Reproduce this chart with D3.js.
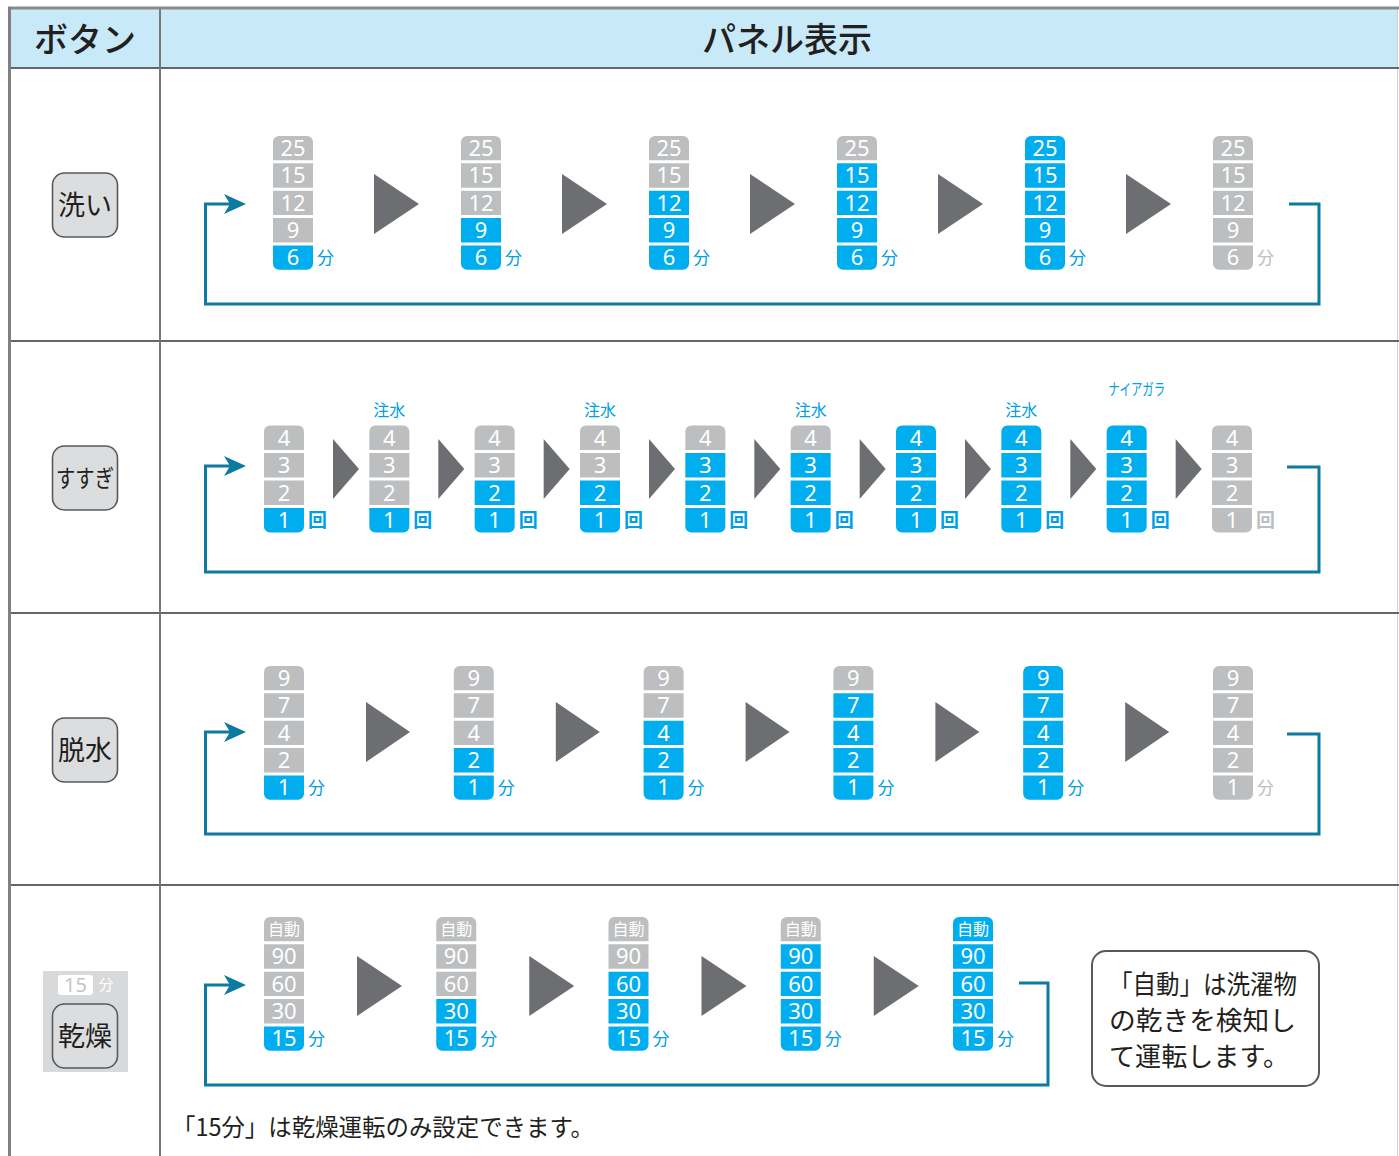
<!DOCTYPE html>
<html><head><meta charset="utf-8">
<script src="https://cdn.jsdelivr.net/npm/d3@7"></script>
<style>html,body{margin:0;padding:0;background:#fff;}svg{display:block;}</style>
</head><body>
<script>
// ---- data ----
const headers = ["ボタン", "パネル表示"];
const buttons = ["洗い", "すすぎ", "脱水", "乾燥"];
const washLevels = ["25", "15", "12", "9", "6"];
const washStates = [1, 2, 3, 4, 5, 0];
const rinseLevels = ["4", "3", "2", "1"];
const rinseStates = [1, 1, 2, 2, 3, 3, 4, 4, 4, 0];
const rinseLabels = ["", "注水", "", "注水", "", "注水", "", "注水", "ナイアガラ", ""];
const spinLevels = ["9", "7", "4", "2", "1"];
const spinStates = [1, 2, 3, 4, 5, 0];
const dryLevels = ["自動", "90", "60", "30", "15"];
const dryStates = [1, 2, 3, 4, 5];
const units = ["分", "回", "分", "分"];
const noteLines = ["「自動」は洗濯物", "の乾きを検知し", "て運転します。"];
const footNote = "「15分」は乾燥運転のみ設定できます。";
const dryBadge = ["15", "分"];

// ---- layout ----
const W = 1399, H = 1156;
const BLUE = "#00aeef", GRAY = "#bcbec0", TRI = "#6d6e71", LOOP = "#0e79a1", UNITBLUE = "#00a0e3";
const FONT = "'Noto Sans CJK JP', 'Noto Sans', sans-serif";
const LATIN = "'Noto Sans', 'Open Sans', sans-serif";
const rows = [
  {levels: washLevels, states: washStates, labels: null, x0: 273, x1: 1213, y0: 136, triDx: 101, triW: 45, cy: 204, ya: 204, yb: 304, xr: 1319, stub: 1289, yr: 204, btnY: 205},
  {levels: rinseLevels, states: rinseStates, labels: rinseLabels, x0: 264, x1: 1212, y0: 425.5, triDx: 69, triW: 26, cy: 469, ya: 466, yb: 572, xr: 1319, stub: 1287, yr: 467, btnY: 478},
  {levels: spinLevels, states: spinStates, labels: null, x0: 264, x1: 1213, y0: 666, triDx: 102, triW: 44, cy: 732, ya: 732, yb: 834, xr: 1319, stub: 1287, yr: 734, btnY: 750},
  {levels: dryLevels, states: dryStates, labels: null, x0: 264, x1: 953, y0: 917, triDx: 93, triW: 45, cy: 986, ya: 985, yb: 1085, xr: 1048, stub: 1019, yr: 983, btnY: 1036}
];
const rowLines = [68, 341, 613, 885];

const svg = d3.select("body").append("svg").attr("width", W).attr("height", H)
  .style("font-family", FONT);

// CJK text helper: place by visual center
function cjk(sel, x, cy, fs, txt, fill, anchor) {
  return sel.append("text").attr("x", x).attr("y", cy + fs * 0.36)
    .attr("text-anchor", anchor || "start").attr("font-size", fs).attr("fill", fill).text(txt);
}

// header background
svg.append("rect").attr("x", 10).attr("y", 9).attr("width", W - 11).attr("height", 59).attr("fill", "#c7e9f8");
// grid lines
svg.append("line").attr("x1", W - 1.5).attr("x2", W - 1.5).attr("y1", 9).attr("y2", H).attr("stroke", "#d0d0d0").attr("stroke-width", 1);
rowLines.forEach(y => svg.append("line").attr("x1", 10).attr("x2", W).attr("y1", y).attr("y2", y).attr("stroke", "#666").attr("stroke-width", 2));
svg.append("line").attr("x1", 160).attr("x2", 160).attr("y1", 9).attr("y2", H).attr("stroke", "#777").attr("stroke-width", 2);
svg.append("line").attr("x1", 8).attr("x2", W).attr("y1", 8).attr("y2", 8).attr("stroke", "#8a8a8a").attr("stroke-width", 3);
svg.append("line").attr("x1", 9.5).attr("x2", 9.5).attr("y1", 7).attr("y2", H).attr("stroke", "#808080").attr("stroke-width", 3);

// header texts
cjk(svg, 85, 40, 34, headers[0], "#231f20", "middle").attr("font-weight", 500);
cjk(svg, 787, 40, 34, headers[1], "#231f20", "middle").attr("font-weight", 500);

// cell path with rounded corners on top or bottom
function cellPath(x, y, w, h, r, top, bottom) {
  const p = d3.path();
  const rt = top ? r : 0, rb = bottom ? r : 0;
  p.moveTo(x + rt, y);
  p.lineTo(x + w - rt, y);
  if (rt) p.arcTo(x + w, y, x + w, y + rt, rt);
  p.lineTo(x + w, y + h - rb);
  if (rb) p.arcTo(x + w, y + h, x + w - rb, y + h, rb);
  p.lineTo(x + rb, y + h);
  if (rb) p.arcTo(x, y + h, x, y + h - rb, rb);
  p.lineTo(x, y + rt);
  if (rt) p.arcTo(x, y, x + rt, y, rt);
  p.closePath();
  return p.toString();
}

rows.forEach((row, ri) => {
  const n = row.states.length;
  const m = row.levels.length;
  const xs = d3.scaleLinear().domain([0, n - 1]).range([row.x0, row.x1]);
  const ys = d3.scaleBand().domain(d3.range(m)).range([row.y0, row.y0 + 26.75 * m]).paddingInner(0.11).paddingOuter(0);
  const cw = 40;
  const g = svg.append("g");

  // button
  if (ri === 3) {
    g.append("rect").attr("x", 43).attr("y", 971).attr("width", 85).attr("height", 101).attr("fill", "#d8d9da");
    g.append("rect").attr("x", 58).attr("y", 975).attr("width", 35).attr("height", 20).attr("rx", 3).attr("fill", "#fff");
    g.append("text").attr("x", 75.5).attr("y", 985 + 7).attr("text-anchor", "middle").style("font-family", LATIN)
      .attr("font-size", 20).attr("fill", "#c4c5c7").text(dryBadge[0]);
    cjk(g, 106, 985, 15, dryBadge[1], "#fff", "middle");
  }
  const bh = 64, bw = 65;
  g.append("rect").attr("x", 85 - bw / 2).attr("y", row.btnY - bh / 2).attr("width", bw).attr("height", bh)
    .attr("rx", 12).attr("fill", "#dcddde").attr("stroke", "#58595b").attr("stroke-width", 1.6);
  const bt = cjk(g, 85, row.btnY, buttons[ri].length > 2 ? 24 : 27, buttons[ri], "#231f20", "middle");
  if (buttons[ri].length > 2) bt.attr("textLength", 58).attr("lengthAdjust", "spacingAndGlyphs");

  // columns
  row.states.forEach((s, ci) => {
    const x = xs(ci);
    const active = s > 0;
    row.levels.forEach((lv, li) => {
      const blue = (m - li) <= s;
      const y = ys(li);
      const cy = y + ys.bandwidth() / 2;
      g.append("path").attr("d", cellPath(x, y, cw, ys.bandwidth(), 6, li === 0, li === m - 1))
        .attr("fill", blue ? BLUE : GRAY);
      if (isNaN(+lv)) {
        cjk(g, x + cw / 2, cy, 16, lv, "#fff", "middle");
      } else {
        g.append("text").attr("x", x + cw / 2).attr("y", cy + 7.8)
          .attr("text-anchor", "middle").style("font-family", LATIN)
          .attr("font-size", 22).attr("fill", "#fff").text(lv);
      }
    });
    const lcy = ys(m - 1) + ys.bandwidth() / 2;
    const u = cjk(g, x + 44, lcy, ri === 1 ? 19 : 17, units[ri], active ? UNITBLUE : GRAY);
    if (ri === 1) u.attr("font-weight", "bold");
    if (row.labels && row.labels[ci]) {
      const lab = row.labels[ci];
      const isLong = lab.length > 2;
      const t = cjk(g, x + cw / 2 + (isLong ? 10 : 0), isLong ? 389 : 410, 16, lab, UNITBLUE, "middle");
      if (isLong) t.attr("textLength", 57).attr("lengthAdjust", "spacingAndGlyphs");
    }
    // triangle
    if (ci < n - 1) {
      const tx = x + row.triDx;
      g.append("path").attr("d", `M${tx},${row.cy - 30}L${tx + row.triW},${row.cy}L${tx},${row.cy + 30}Z`).attr("fill", TRI);
    }
  });

  // loop line
  const xl = 205.5, tip = 246;
  g.append("path")
    .attr("d", `M${row.stub},${row.yr}H${row.xr}V${row.yb}H${xl}V${row.ya}H${tip - 14}`)
    .attr("fill", "none").attr("stroke", LOOP).attr("stroke-width", 3);
  g.append("path")
    .attr("d", `M${tip},${row.ya}L${tip - 22},${row.ya - 10}L${tip - 16},${row.ya}L${tip - 22},${row.ya + 10}Z`)
    .attr("fill", LOOP);
});

// note box
svg.append("rect").attr("x", 1092).attr("y", 951).attr("width", 227).attr("height", 135).attr("rx", 14)
  .attr("fill", "#fff").attr("stroke", "#58595b").attr("stroke-width", 2);
const noteLen = [188, 187, 180];
noteLines.forEach((t, i) => {
  cjk(svg, 1109, 984 + i * 36, 26.5, t, "#231f20")
    .attr("textLength", noteLen[i]).attr("lengthAdjust", "spacingAndGlyphs");
});

// footnote
cjk(svg, 172, 1127, 24, footNote, "#231f20").attr("textLength", 422).attr("lengthAdjust", "spacingAndGlyphs");
</script>
</body></html>
